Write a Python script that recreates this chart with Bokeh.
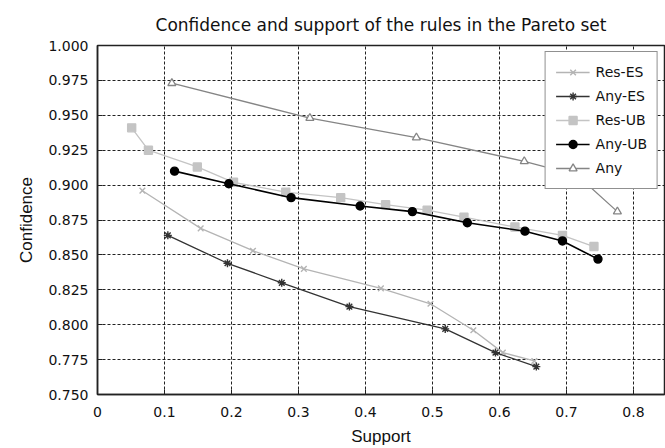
from bokeh.plotting import figure
from bokeh.models import Range1d, FixedTicker, Legend
from bokeh.embed import file_html
from bokeh.resources import INLINE

# ---- data ----
res_es_x = [0.067, 0.154, 0.232, 0.308, 0.423, 0.497, 0.561, 0.605, 0.652]
res_es_y = [0.896, 0.869, 0.853, 0.840, 0.826, 0.815, 0.796, 0.780, 0.774]

any_es_x = [0.105, 0.194, 0.275, 0.376, 0.519, 0.594, 0.655]
any_es_y = [0.864, 0.844, 0.830, 0.813, 0.797, 0.780, 0.770]

res_ub_x = [0.051, 0.076, 0.149, 0.203, 0.281, 0.363, 0.430, 0.492, 0.547, 0.623, 0.694, 0.741]
res_ub_y = [0.941, 0.925, 0.913, 0.902, 0.895, 0.891, 0.886, 0.882, 0.877, 0.870, 0.864, 0.856]

any_ub_x = [0.115, 0.196, 0.289, 0.392, 0.470, 0.552, 0.638, 0.694, 0.747]
any_ub_y = [0.910, 0.901, 0.891, 0.885, 0.881, 0.873, 0.867, 0.860, 0.847]

any_x = [0.111, 0.317, 0.476, 0.637, 0.716, 0.776]
any_y = [0.973, 0.948, 0.934, 0.917, 0.907, 0.881]

x_ticks = [0.0, 0.1, 0.2, 0.3, 0.4, 0.5, 0.6, 0.7, 0.8]
x_tick_labels = ["0", "0.1", "0.2", "0.3", "0.4", "0.5", "0.6", "0.7", "0.8"]
y_ticks = [0.750, 0.775, 0.800, 0.825, 0.850, 0.875, 0.900, 0.925, 0.950, 0.975, 1.000]
y_tick_labels = ["0.750", "0.775", "0.800", "0.825", "0.850", "0.875",
                 "0.900", "0.925", "0.950", "0.975", "1.000"]

FONT = "DejaVu Sans"

p = figure(width=665, height=448, output_backend="svg", toolbar_location=None,
           x_range=Range1d(0, 0.8463), y_range=Range1d(0.75, 1.0),
           min_border_left=97, min_border_right=1, min_border_top=45, min_border_bottom=53,
           title="Confidence and support of the rules in the Pareto set")

p.title.align = "center"
p.title.vertical_align = "top"
p.title.text_font = FONT
p.title.text_font_size = "17px"
p.title.text_font_style = "normal"
p.title.text_color = "#111111"
p.title.standoff = 18

p.outline_line_color = "#222222"
p.outline_line_width = 1.5
p.background_fill_color = "white"
p.border_fill_color = "white"

for ax in (p.xaxis[0], p.yaxis[0]):
    ax.major_label_text_font = FONT
    ax.major_label_text_font_size = "14px"
    ax.major_label_text_color = "#111111"
    ax.axis_label_text_font = "Liberation Sans"
    ax.axis_label_text_font_size = "17px"
    ax.axis_label_text_font_style = "normal"
    ax.axis_label_text_color = "#111111"
    ax.axis_line_color = "#222222"
    ax.axis_line_width = 1.5
    ax.major_tick_in = 5
    ax.major_tick_out = 0
    ax.minor_tick_line_color = None
    ax.major_tick_line_color = "#222222"

p.xaxis.axis_label = "Support"
p.yaxis.axis_label = "Confidence"
p.xaxis.ticker = FixedTicker(ticks=x_ticks)
p.yaxis.ticker = FixedTicker(ticks=y_ticks)
p.xaxis.major_label_overrides = {t: l for t, l in zip(x_ticks, x_tick_labels)}
p.yaxis.major_label_overrides = {t: l for t, l in zip(y_ticks, y_tick_labels)}
p.xaxis.major_label_standoff = 12
p.yaxis.major_label_standoff = 9
p.xaxis.axis_label_standoff = 7
p.yaxis.axis_label_standoff = 9

for g in (p.xgrid[0], p.ygrid[0]):
    g.grid_line_color = "#222222"
    g.grid_line_dash = "3 2"
    g.grid_line_width = 1
p.xgrid.ticker = FixedTicker(ticks=x_ticks)
p.ygrid.ticker = FixedTicker(ticks=y_ticks)

series = [
    ("Res-ES", res_es_x, res_es_y, "#b4b4b4", "x", 8, True, 1.3),
    ("Any-ES", any_es_x, any_es_y, "#333333", "asterisk", 8, True, 1.3),
    ("Res-UB", res_ub_x, res_ub_y, "#c4c4c4", "square", 8, True, 1.3),
    ("Any-UB", any_ub_x, any_ub_y, "#000000", "circle", 8, True, 1.6),
    ("Any", any_x, any_y, "#858585", "triangle", 8, False, 1.3),
]

items = []
for name, xs, ys, col, marker, size, filled, lw in series:
    r1 = p.line(xs, ys, line_color=col, line_width=lw)
    if filled:
        r2 = p.scatter(xs, ys, marker=marker, size=size, line_color=col,
                       fill_color=col, line_width=1.4)
    else:
        r2 = p.scatter(xs, ys, marker=marker, size=size, line_color=col,
                       fill_color="white", line_width=1.3)
    items.append((name, [r1, r2]))

legend = Legend(items=items, location="top_right")
legend.margin = 6
legend.padding = 10
legend.spacing = 4
legend.glyph_width = 34
legend.glyph_height = 20
legend.label_height = 20
legend.label_standoff = 6
legend.label_text_font = FONT
legend.label_text_font_size = "14px"
legend.label_text_color = "#111111"
legend.border_line_color = "#222222"
legend.border_line_width = 1.2
legend.background_fill_alpha = 1.0
p.add_layout(legend)

open("out.html", "w").write(file_html(p, INLINE))
